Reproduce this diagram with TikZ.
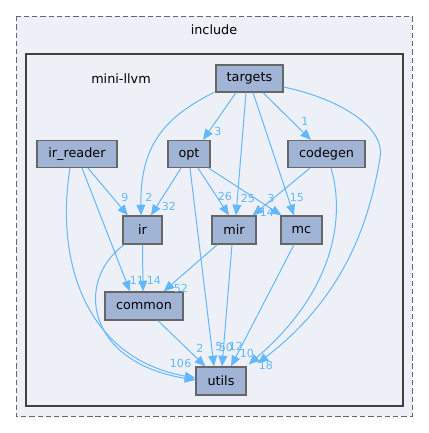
\documentclass[tikz,border=0pt]{standalone}
\usepackage{fontspec}
\setmainfont{DejaVu Sans}
\usetikzlibrary{arrows.meta,calc}
\definecolor{edgec}{HTML}{63B8FF}
\definecolor{nodefill}{HTML}{A2B4D6}
\definecolor{bgc}{HTML}{EDF0F7}
\definecolor{borderc}{HTML}{404040}
\tikzset{
  dirbox/.style={draw=borderc!80, line width=0.9pt, fill=nodefill, minimum height=20.25pt, inner sep=0pt, font=\fontsize{9.6}{11}\selectfont},
  dep/.style={draw=edgec, line width=0.75pt, -{Stealth[length=8pt,width=6.6pt,inset=0pt]}},
  lab/.style={text=edgec, font=\fontsize{8.3}{9}\selectfont, inner sep=0pt}
}
\begin{document}
\begin{tikzpicture}[x=0.75pt,y=-0.75pt]
\useasboundingbox (0,0) rectangle (429,433);
\fill[white] (0,0) rectangle (429,433);
\draw[borderc!80, fill=bgc, line width=0.75pt, dash pattern=on 4pt off 2.2pt] (16,16) rectangle (412,416);
\node[font=\fontsize{9.6}{11}\selectfont] (incl) at (214,30) {include};
\draw[borderc, fill=bgc, line width=1.6pt] (26,54) rectangle (403,406);
\node[font=\fontsize{9.6}{11}\selectfont] (mini) at (121,79) {mini-llvm};

\node[dirbox, minimum width=50.25pt] (targets) at (249.5,78.5) {targets};
\node[dirbox, minimum width=60pt] (irreader) at (77,154) {ir\_reader};
\node[dirbox, minimum width=31.5pt] (opt) at (189,154) {opt};
\node[dirbox, minimum width=57.75pt] (codegen) at (326.5,154) {codegen};
\node[dirbox, minimum width=29.25pt, minimum height=21pt] (ir) at (142.5,230) {ir};
\node[dirbox, minimum width=33pt, minimum height=21pt] (mir) at (234,230) {mir};
\node[dirbox, minimum width=30.75pt, minimum height=21pt] (mc) at (301.5,230) {mc};
\node[dirbox, minimum width=58.5pt, minimum height=21pt] (common) at (144,306) {common};
\node[dirbox, minimum width=37.5pt, minimum height=21pt] (utils) at (221,381) {utils};

% targets
\draw[dep] ($(targets.south)+(-13.5,0)$) -- ($(opt.north)+(14,0)$);
\node[lab] at (218,131) {3};
\draw[dep] ($(targets.south)+(13.5,0)$) -- ($(codegen.north)+(-15.5,0)$);
\node[lab] at (305,121) {1};
\draw[dep] ($(targets.south west)+(-1,-0.5)$) .. controls (170,115) and (140,140) .. ($(ir.north)+(-1.5,0)$);
\node[lab] at (149,197) {2};
\draw[dep] ($(targets.south)+(-3.5,0)$) -- ($(mir.north)+(2,0)$);
\node[lab] at (248,198) {25};
\draw[dep] ($(targets.south)+(3.5,0)$) -- ($(mc.north)+(-7.5,0)$);
\node[lab] at (297,198) {15};
\draw[dep] ($(targets.east)+(0,8.5)$) .. controls (345,100) and (386,130) .. (380,158) .. controls (368,230) and (340,300) .. ($(utils.north east)+(11,-3)$);
\node[lab] at (266,365) {18};

% codegen
\draw[dep] ($(codegen.south)+(-16.5,0)$) -- ($(mir.north east)+(-4,0)$);
\node[lab] at (271,198) {3};
\draw[dep] ($(codegen.south)+(4.5,0)$) .. controls (345,215) and (336,290) .. ($(utils.north east)+(2,-2)$);
\node[lab] at (247,353) {10};

% opt
\draw[dep] ($(opt.south)+(-8,0)$) -- ($(ir.north)+(8.5,0)$);
\node[lab] at (169,206) {32};
\draw[dep] ($(opt.south)+(9,0)$) -- ($(mir.north)+(-5,0)$);
\node[lab] at (225,196) {26};
\draw[dep] ($(opt.south east)+(-2,0)$) -- ($(mc.north west)+(1,0)$);
\node[lab] at (267,212) {14};
\draw[dep] ($(opt.south)+(1,0)$) -- ($(utils.north)+(-7,0)$);
\node[lab] at (219,347) {5};

% mir, mc
\draw[dep] ($(mir.south)+(-2,0)$) -- ($(utils.north)+(1,0)$);
\node[lab] at (226,347) {50};
\draw[dep] ($(mc.south)+(-7.5,0)$) -- ($(utils.north)+(10,0)$);
\node[lab] at (236,346) {12};
\draw[dep] ($(mir.south west)+(6,0)$) -- ($(common.north east)+(-20,0)$);
\node[lab] at (181,288) {52};

% ir
\draw[dep] (ir.south) -- ($(common.north)+(-1,0)$);
\node[lab] at (154,280) {14};
\draw[dep] ($(ir.south west)+(2,0)$) .. controls (75,280) and (85,362) .. ($(utils.west)+(0,-1)$);
\node[lab] at (188,363) {6};

% ir_reader
\draw[dep] ($(irreader.south)+(5,0)$) -- ($(common.north)+(-14,0)$);
\node[lab] at (137,280) {11};
\draw[dep] ($(irreader.south)+(11,0)$) -- ($(ir.north west)+(5.5,0)$);
\node[lab] at (125,197) {9};
\draw[dep] ($(irreader.south)+(-7,0)$) .. controls (55,260) and (85,358) .. ($(utils.west)+(0,-3)$);
\node[lab] at (177,363) {10};

% common
\draw[dep] ($(common.south)+(14,0)$) -- ($(utils.north west)+(10,0)$);
\node[lab] at (200,348) {2};
\end{tikzpicture}
\end{document}
